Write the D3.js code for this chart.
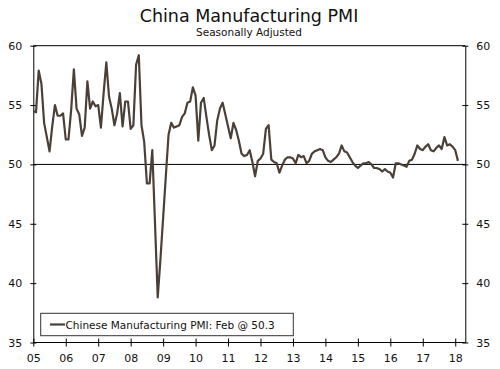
<!DOCTYPE html>
<html><head><meta charset="utf-8">
<script src="https://cdnjs.cloudflare.com/ajax/libs/d3/7.8.5/d3.min.js"></script>
<style>body{margin:0;background:#fff}svg{display:block}text{font-family:"DejaVu Sans",Verdana,sans-serif;fill:#111}</style>
</head><body><svg id="c" width="500" height="369"></svg>
<script>
const startYear = 2005;
const pmi = [
 54.5,54.4,57.9,56.8,53.5,52.3,51.1,53.2,55.0,54.1,54.1,54.3,
 52.1,52.1,54.6,58.0,54.7,54.2,52.4,53.1,57.0,54.7,55.3,54.9,
 55.0,53.1,56.0,58.6,55.7,54.7,53.3,54.3,56.0,53.2,55.3,55.3,
 53.0,53.3,58.4,59.2,53.3,51.9,48.4,48.4,51.2,45.0,38.8,42.0,
 45.5,49.0,52.5,53.5,53.1,53.2,53.3,54.0,54.3,55.2,55.3,56.5,
 55.8,52.0,55.2,55.6,54.0,52.5,51.2,51.6,53.7,54.7,55.2,54.2,
 53.2,52.2,53.5,52.9,52.0,50.9,50.7,50.8,51.2,50.2,49.0,50.3,
 50.5,50.9,53.0,53.3,50.4,50.2,50.1,49.3,49.9,50.4,50.6,50.6,
 50.5,50.1,50.8,50.6,50.7,50.1,50.3,50.9,51.1,51.2,51.3,51.2,
 50.6,50.3,50.2,50.4,50.6,50.9,51.6,51.1,51.0,50.6,50.2,49.9,
 49.7,49.9,50.1,50.1,50.2,50.0,49.7,49.7,49.6,49.4,49.6,49.4,
 49.3,48.9,50.1,50.1,50.0,49.9,49.8,50.3,50.4,50.9,51.6,51.3,
 51.2,51.5,51.7,51.2,51.1,51.4,51.6,51.3,52.3,51.6,51.7,51.5,
 51.2,50.3
];
const yearTicks = d3.range(2005, 2019);
const yearLabels = ["05","06","07","08","09","10","11","12","13","14","15","16","17","18"];
const yTicks = [35,40,45,50,55,60];
const title = "China Manufacturing PMI";
const subtitle = "Seasonally Adjusted";
const legendLabel = "Chinese Manufacturing PMI: Feb @ 50.3";

const svg = d3.select("#c");
const L = 33.3, R = 465.3, T = 45.7, B = 342.5;
const x = d3.scaleLinear().domain([2005, 2018.31]).range([L, R]);
const y = d3.scaleLinear().domain([35, 60]).range([B, T]);
const lineColor = "#4a4038";

svg.append("text").attr("x", 249).attr("y", 22).attr("text-anchor","middle")
  .attr("font-size", 17.5).text(title);
svg.append("text").attr("x", 249).attr("y", 36).attr("text-anchor","middle")
  .attr("font-size", 10.5).text(subtitle);

svg.append("line").attr("x1", L).attr("x2", R).attr("y1", T).attr("y2", T).attr("stroke","#000").attr("stroke-width",1);
svg.append("line").attr("x1", L).attr("x2", R).attr("y1", y(50)).attr("y2", y(50)).attr("stroke","#000").attr("stroke-width",1);

const fmtY = d => String(d);
const leftAx = d3.axisLeft(y).tickValues(yTicks).tickFormat(fmtY).tickSizeInner(3).tickSizeOuter(0).tickPadding(8);
const rightAx = d3.axisRight(y).tickValues(yTicks).tickFormat(fmtY).tickSizeInner(3).tickSizeOuter(0).tickPadding(8);
const botAx = d3.axisBottom(x).tickValues(yearTicks).tickFormat((d,i)=>yearLabels[i]).tickSizeInner(4).tickSizeOuter(0).tickPadding(8);

function style(g){
  g.selectAll("path.domain").attr("stroke","#000");
  g.selectAll(".tick line").attr("stroke","#000");
  g.selectAll("text").attr("font-family",'"DejaVu Sans",Verdana,sans-serif').attr("font-size",11).attr("fill","#111");
}
const gl = svg.append("g").attr("transform",`translate(${L},0)`).call(leftAx); style(gl);
gl.selectAll(".tick line").attr("x1",3);
const gr = svg.append("g").attr("transform",`translate(${R},0)`).call(rightAx); style(gr);
gr.selectAll(".tick line").attr("x1",-3);
const gb = svg.append("g").attr("transform",`translate(0,${B})`).call(botAx); style(gb);
gb.selectAll(".tick line").attr("y1",-4);
gb.select("path.domain").attr("d", `M${L},0H${R}`);

const line = d3.line().x((d,i)=>x(startYear + i/12)).y(d=>y(d));
svg.append("path").datum(pmi).attr("d", line).attr("fill","none")
  .attr("stroke", lineColor).attr("stroke-width", 2.2).attr("stroke-linejoin","round");

const lg = svg.append("g");
lg.append("rect").attr("x",40.7).attr("y",313.3).attr("width",252.6).attr("height",22.4)
  .attr("fill","#fff").attr("stroke","#333").attr("stroke-width",1);
lg.append("line").attr("x1",50).attr("x2",65).attr("y1",324.5).attr("y2",324.5)
  .attr("stroke",lineColor).attr("stroke-width",2.2);
lg.append("text").attr("x",65.5).attr("y",328.5).attr("font-size",10.5).text(legendLabel);
</script></body></html>
